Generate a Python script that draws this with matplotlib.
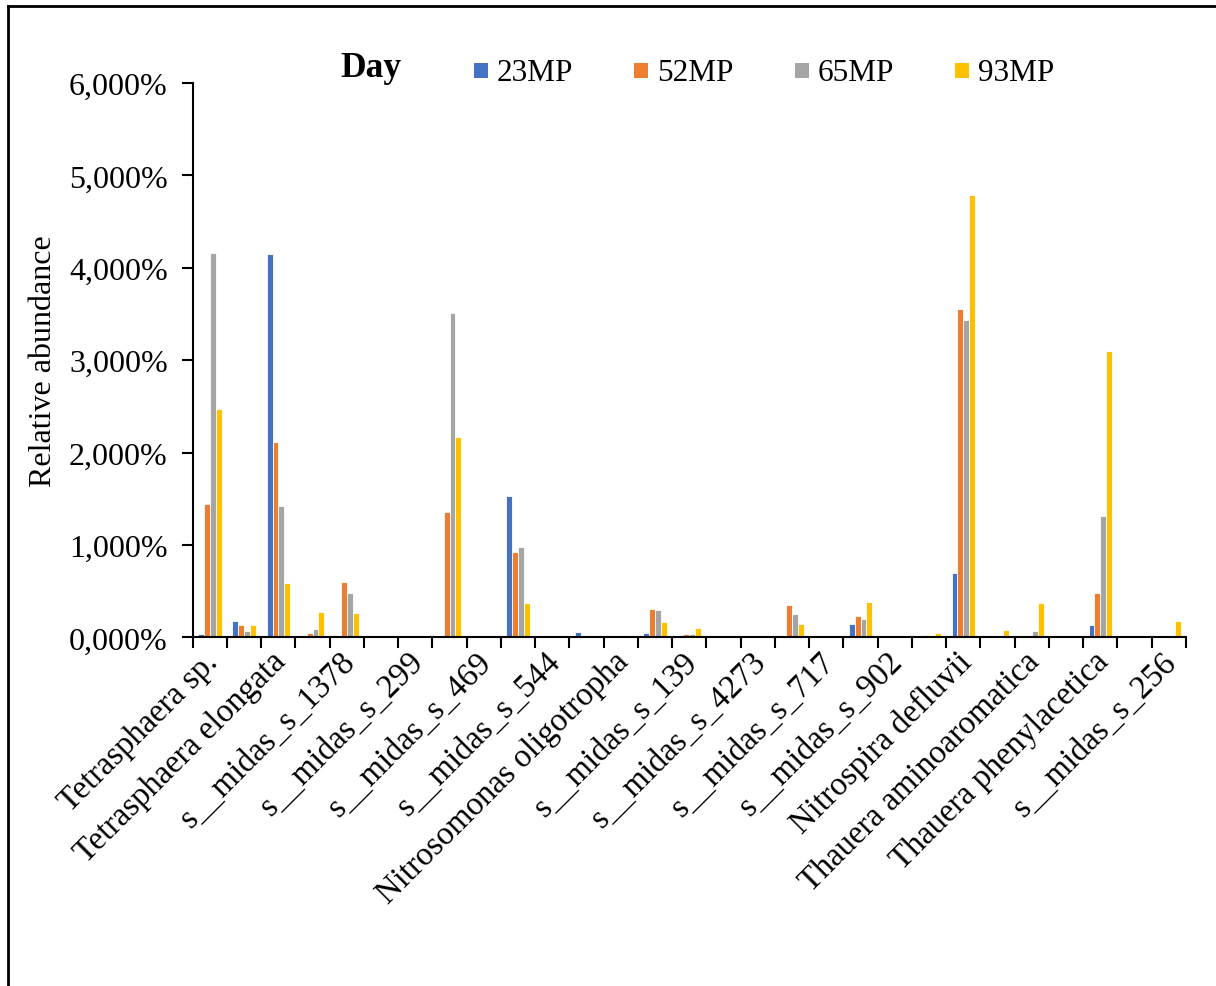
import numpy as np
import matplotlib.pyplot as plt
from matplotlib.patches import Rectangle
from matplotlib.lines import Line2D

plt.rcParams['font.family'] = ['Liberation Serif', 'DejaVu Serif']

# 29 categories, Excel shows only every other label
shown_labels = ["Tetrasphaera sp.", "Tetrasphaera elongata", "s__midas_s_1378",
                "s__midas_s_299", "s__midas_s_469", "s__midas_s_544",
                "Nitrosomonas oligotropha", "s__midas_s_139", "s__midas_s_4273",
                "s__midas_s_717", "s__midas_s_902", "Nitrospira defluvii",
                "Thauera aminoaromatica", "Thauera phenylacetica", "s__midas_s_256"]
n_cat = 29

series_names = ["23MP", "52MP", "65MP", "93MP"]
colors = ["#4472C4", "#ED7D31", "#A5A5A5", "#FFC000"]

# values in %
v23 = [0.04, 0.18, 4.147, 0.015, 0.015, 0, 0, 0, 0, 1.53,
       0, 0.06, 0, 0.05, 0.027, 0, 0, 0.02, 0, 0.146,
       0, 0, 0.695, 0.003, 0, 0, 0.14, 0, 0]
v52 = [1.445, 0.14, 2.11, 0.05, 0.60, 0, 0, 1.36, 0, 0.92,
       0.004, 0.02, 0.005, 0.31, 0.038, 0, 0, 0.355, 0, 0.233,
       0, 0.027, 3.55, 0.003, 0.003, 0, 0.48, 0.003, 0]
v65 = [4.165, 0.075, 1.42, 0.09, 0.48, 0, 0, 3.51, 0, 0.976,
       0, 0.01, 0.027, 0.295, 0.038, 0, 0.01, 0.25, 0.003, 0.204,
       0, 0, 3.44, 0.01, 0.075, 0, 1.32, 0, 0.01]
v93 = [2.47, 0.13, 0.59, 0.28, 0.265, 0, 0, 2.17, 0, 0.377,
       0, 0.01, 0, 0.17, 0.10, 0, 0.008, 0.15, 0.008, 0.384,
       0, 0.045, 4.79, 0.085, 0.375, 0, 3.10, 0.01, 0.18]
yticks = [0, 1, 2, 3, 4, 5, 6]
ytick_labels = ["0,000%", "1,000%", "2,000%", "3,000%", "4,000%", "5,000%", "6,000%"]

W, H = 1216, 987
fig = plt.figure(figsize=(W / 100, H / 100), dpi=100)
ax = fig.add_axes([0.1585, 0.3531, 0.8168, 0.5618])

x = np.arange(n_cat)
bw = 0.171
for k, vals in enumerate([v23, v52, v65, v93]):
    ax.bar(x + (k - 1.5) * bw, vals, width=bw, color=colors[k],
           edgecolor="white", linewidth=0.6)

ax.set_xlim(-0.5, n_cat - 0.5)
ax.set_ylim(0, 6)
ax.set_yticks(yticks)
ax.set_yticklabels(ytick_labels, fontsize=23)

# tick marks between groups, labels on every other group
# (label anchors nudged a little left, like Excel's rotated labels)
ax.set_xticks(np.arange(n_cat + 1) - 0.5)
ax.set_xticklabels([])
ax.set_xticks(x[::2] - 0.22, minor=True)
ax.set_xticklabels(shown_labels, minor=True, rotation=45, ha="right", va="top",
                   rotation_mode="anchor", fontsize=23.5)
ax.tick_params(axis="x", which="major", direction="out", length=8, width=1.5)
ax.tick_params(axis="x", which="minor", length=0, pad=6)
ax.tick_params(axis="y", direction="out", length=8, width=1.5, pad=10)

for s in ["top", "right"]:
    ax.spines[s].set_visible(False)
for s in ["left", "bottom"]:
    ax.spines[s].set_linewidth(1.5)

ax.set_ylabel("Relative abundance", fontsize=23)
ax.yaxis.set_label_coords(-0.1357, 0.5)

# legend row, laid out like the Excel legend
fig.text(340 / W, 1 - 77 / H, "Day", fontsize=25.5, fontweight="bold", va="baseline")
sq_left = [474, 634, 795, 955]
for name, c, xl in zip(series_names, colors, sq_left):
    fig.add_artist(Rectangle((xl / W, 1 - 79 / H), 14 / W, 15 / H, facecolor=c,
                             edgecolor="none", transform=fig.transFigure))
    fig.text((xl + 23) / W, 1 - 81 / H, name, fontsize=22.5, va="baseline")

# chart area border (left + top edges visible)
fig.add_artist(Line2D([0.0066, 0.0066], [0, 0.993], color="black", lw=2,
                      transform=fig.transFigure))
fig.add_artist(Line2D([0.0066, 1.0], [0.993, 0.993], color="black", lw=2,
                      transform=fig.transFigure))

fig.savefig("out.png", dpi=100)
